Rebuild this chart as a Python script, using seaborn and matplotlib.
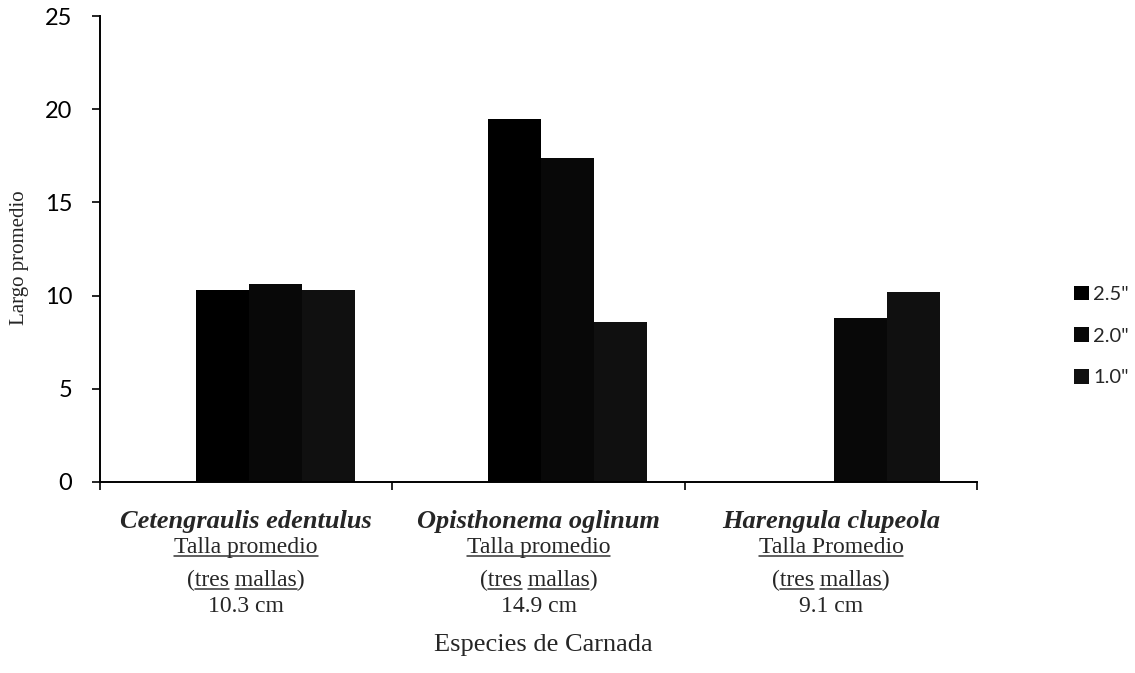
import numpy as np
import pandas as pd
import matplotlib
matplotlib.use('Agg')
import matplotlib.pyplot as plt
import matplotlib.transforms as mtrans
from matplotlib.lines import Line2D
import seaborn as sns

especies = ['Cetengraulis edentulus', 'Opisthonema oglinum', 'Harengula clupeola']
mallas = ['2.5"', '2.0"', '1.0"']
largo_25 = [10.3, 19.5, 0.0]
largo_20 = [10.6, 17.4, 8.8]
largo_10 = [10.3, 8.6, 10.2]
talla_txt = ['Talla promedio', 'Talla promedio', 'Talla Promedio']
talla_cm = ['10.3 cm', '14.9 cm', '9.1 cm']

df = pd.DataFrame({
    'especie': especies * 3,
    'malla': np.repeat(mallas, 3),
    'largo': largo_25 + largo_20 + largo_10,
})

sns.set_theme(style='white')
plt.rcParams['font.family'] = ['Liberation Serif', 'DejaVu Serif']

fig = plt.figure(figsize=(11.35, 6.73), dpi=100)
ax = fig.add_axes([0.088, 0.284, 0.773, 0.692])
sns.barplot(data=df, x='especie', y='largo', hue='malla',
            palette=['#000000', '#080808', '#101010'], saturation=1,
            width=0.545, linewidth=0, ax=ax)

ax.set_xlim(-0.6, 2.4)
ax.set_ylim(0, 25)
ax.set_yticks([0, 5, 10, 15, 20, 25])
ax.set_yticklabels(['0', '5', '10', '15', '20', '25'], family='Lato', fontsize=17)
ax.set_xticks([-0.6, 0.4, 1.4, 2.4])
ax.set_xticklabels([])
ax.tick_params(axis='y', left=True, length=6, width=1.2, color='black', labelcolor='black', pad=14)
ax.tick_params(axis='x', bottom=True, length=6, width=1.2, color='black')
ax.set_xlabel('')
ax.set_ylabel('')
sns.despine(ax=ax)
for s in ['left', 'bottom']:
    ax.spines[s].set_color('black')
    ax.spines[s].set_linewidth(1.4)

# leyenda
handles, labels = ax.get_legend_handles_labels()
ax.legend(handles, labels, loc='center left', frameon=False,
          bbox_to_anchor=(1074 / 1135, 1 - 336 / 673), bbox_transform=fig.transFigure,
          borderpad=0, borderaxespad=0, handlelength=0.75, handleheight=0.75,
          handletextpad=0.2, labelspacing=1.2, prop={'family': 'Lato', 'size': 14.5})

# etiquetas de especies
blend = mtrans.blended_transform_factory(ax.transData, ax.transAxes)
lab_x = [-0.1, 0.9, 1.9]
offs = [33, 51, 75, 94]
fs = 17
underlines = []
for i, sp in enumerate(especies):
    ax.annotate(sp, (lab_x[i], 0), xycoords=blend, xytext=(0, -offs[0]),
                textcoords='offset points', ha='center', va='baseline',
                fontsize=19, fontweight='bold', fontstyle='italic')
    t1 = ax.annotate(talla_txt[i], (lab_x[i], 0), xycoords=blend, xytext=(0, -offs[1]),
                     textcoords='offset points', ha='center', va='baseline', fontsize=fs)
    t2 = ax.annotate('(tres mallas)', (lab_x[i], 0), xycoords=blend, xytext=(0, -offs[2]),
                     textcoords='offset points', ha='center', va='baseline', fontsize=fs)
    ax.annotate(talla_cm[i], (lab_x[i], 0), xycoords=blend, xytext=(0, -offs[3]),
                textcoords='offset points', ha='center', va='baseline', fontsize=fs)
    underlines.append((t1, offs[1], [(0, len(talla_txt[i]))]))
    underlines.append((t2, offs[2], [(1, 5), (6, 12)]))

fig.text(0.017, 1 - 258 / 673, 'Largo promedio', rotation=90, ha='center', va='center', fontsize=15)
fig.text(0.479, 1 - 645 / 673, 'Especies de Carnada', ha='center', va='center', fontsize=19)

# subrayado
fig.canvas.draw()
renderer = fig.canvas.get_renderer()


def width_of(s, size):
    tmp = fig.text(0, 0, s, fontsize=size)
    w = tmp.get_window_extent(renderer).width
    tmp.remove()
    return w


y_axis0 = ax.transAxes.transform((0, 0))[1]
for t, off, spans in underlines:
    s = t.get_text()
    bb = t.get_window_extent(renderer)
    yb = y_axis0 - off * fig.dpi / 72 - 3
    for a, b in spans:
        x0 = bb.x0 + width_of(s[:b], fs) - width_of(s[a:b], fs)
        x1 = bb.x0 + width_of(s[:b], fs)
        fig.add_artist(Line2D([x0, x1], [yb, yb], transform=mtrans.IdentityTransform(),
                              color='#333333', lw=1.1))

fig.savefig('out.png', dpi=100)
